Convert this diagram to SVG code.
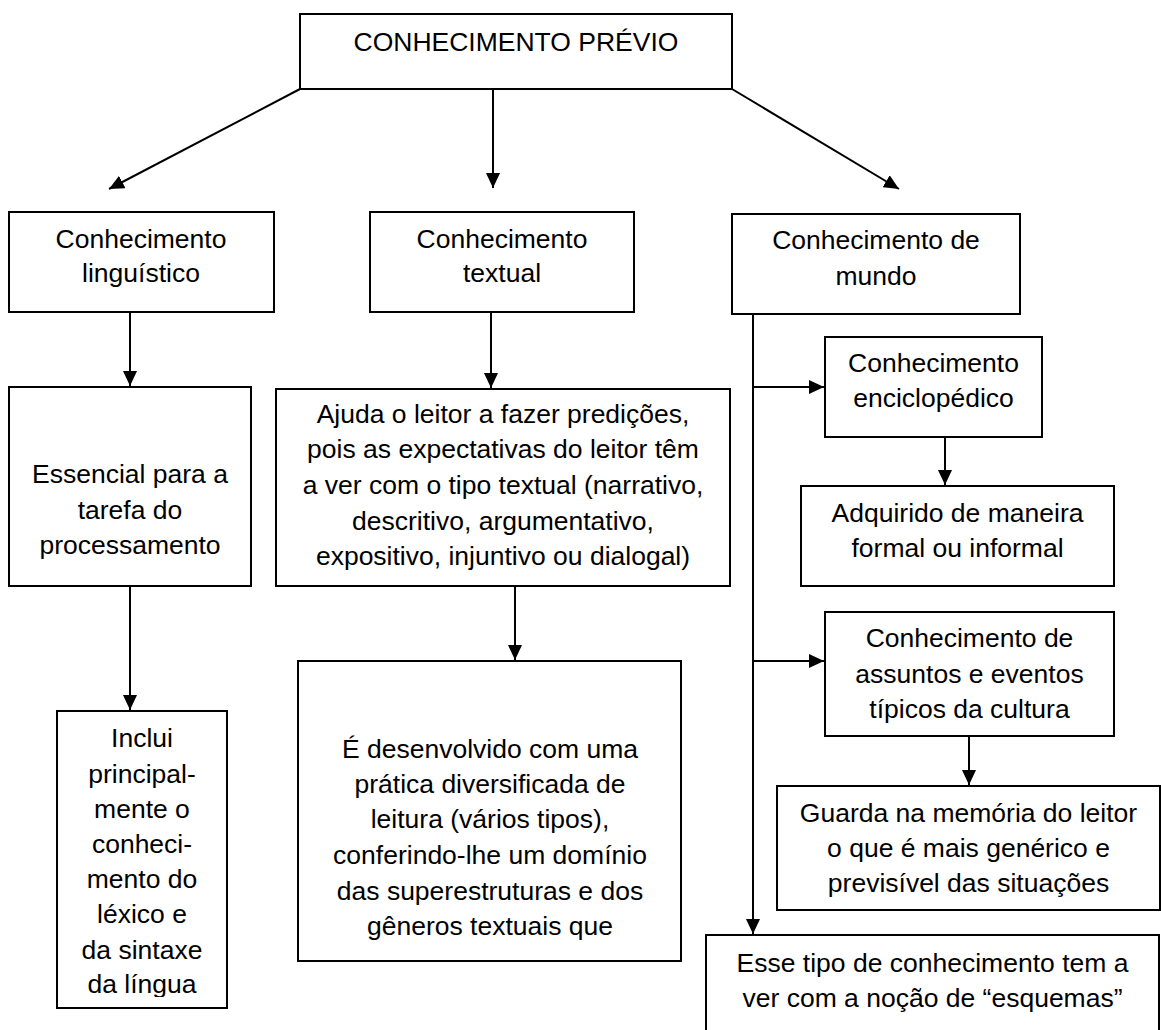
<svg xmlns="http://www.w3.org/2000/svg" width="1161" height="1030" viewBox="0 0 1161 1030">
<style>
.box{fill:#fff;stroke:#000;stroke-width:2}
.t{font-family:"Liberation Sans",Arial,sans-serif;font-size:26.5px;fill:#000;text-anchor:middle}
.c{fill:none;stroke:#000;stroke-width:2}
</style>
<defs>
<marker id="ah" markerUnits="userSpaceOnUse" markerWidth="16" markerHeight="14" refX="15" refY="7" orient="auto">
<path d="M0,0 L15,7 L0,14 z" fill="#000"/>
</marker>
<clipPath id="clipInclui"><rect x="57" y="711" width="170" height="286"/></clipPath>
</defs>
<rect width="1161" height="1030" fill="#fff"/>
<g id="connectors">
<line class="c" x1="300" y1="89" x2="109" y2="189" marker-end="url(#ah)"/>
<line class="c" x1="493" y1="89" x2="493" y2="188" marker-end="url(#ah)"/>
<line class="c" x1="732" y1="89" x2="899" y2="189" marker-end="url(#ah)"/>
<line class="c" x1="130" y1="312" x2="130" y2="386" marker-end="url(#ah)"/>
<line class="c" x1="491" y1="312" x2="491" y2="388" marker-end="url(#ah)"/>
<line class="c" x1="130" y1="586" x2="130" y2="710" marker-end="url(#ah)"/>
<line class="c" x1="515" y1="586" x2="515" y2="660" marker-end="url(#ah)"/>
<line class="c" x1="753" y1="311" x2="753" y2="934" marker-end="url(#ah)"/>
<line class="c" x1="753" y1="387" x2="824" y2="387" marker-end="url(#ah)"/>
<line class="c" x1="753" y1="661" x2="824" y2="661" marker-end="url(#ah)"/>
<line class="c" x1="945" y1="437" x2="945" y2="485" marker-end="url(#ah)"/>
<line class="c" x1="969" y1="736" x2="969" y2="785" marker-end="url(#ah)"/>
</g>
<g id="n-previo">
<rect class="box" x="300" y="14" width="432" height="75"/>
<text class="t" x="516" y="51">CONHECIMENTO PRÉVIO</text>
</g>
<g id="n-linguistico">
<rect class="box" x="9" y="212" width="265" height="100"/>
<text class="t" x="141" y="248">Conhecimento</text>
<text class="t" x="141" y="282">linguístico</text>
</g>
<g id="n-textual">
<rect class="box" x="370" y="212" width="264" height="100"/>
<text class="t" x="502" y="248">Conhecimento</text>
<text class="t" x="502" y="282">textual</text>
</g>
<g id="n-mundo">
<rect class="box" x="732" y="214" width="288" height="100"/>
<text class="t" x="876" y="249">Conhecimento de</text>
<text class="t" x="876" y="285">mundo</text>
</g>
<g id="n-essencial">
<rect class="box" x="9" y="387" width="242" height="199"/>
<text class="t" x="130" y="483">Essencial para a</text>
<text class="t" x="130" y="519">tarefa do</text>
<text class="t" x="130" y="554">processamento</text>
</g>
<g id="n-ajuda">
<rect class="box" x="276" y="389" width="454" height="197"/>
<text class="t" x="503" y="423">Ajuda o leitor a fazer predições,</text>
<text class="t" x="503" y="458">pois as expectativas do leitor têm</text>
<text class="t" x="503" y="494">a ver com o tipo textual (narrativo,</text>
<text class="t" x="503" y="530">descritivo, argumentativo,</text>
<text class="t" x="503" y="565">expositivo, injuntivo ou dialogal)</text>
</g>
<g id="n-inclui">
<rect class="box" x="57" y="711" width="170" height="297"/>
<g clip-path="url(#clipInclui)">
<text class="t" x="142" y="747">Inclui</text>
<text class="t" x="142" y="783">principal-</text>
<text class="t" x="142" y="818">mente o</text>
<text class="t" x="142" y="853">conheci-</text>
<text class="t" x="142" y="888">mento do</text>
<text class="t" x="142" y="923">léxico e</text>
<text class="t" x="142" y="959">da sintaxe</text>
<text class="t" x="142" y="993">da língua</text>
</g>
</g>
<g id="n-desenvolvido">
<rect class="box" x="298" y="661" width="383" height="300"/>
<text class="t" x="490" y="758">É desenvolvido com uma</text>
<text class="t" x="490" y="793">prática diversificada de</text>
<text class="t" x="490" y="828">leitura (vários tipos),</text>
<text class="t" x="490" y="864">conferindo-lhe um domínio</text>
<text class="t" x="490" y="900">das superestruturas e dos</text>
<text class="t" x="490" y="935">gêneros textuais que</text>
</g>
<g id="n-enciclopedico">
<rect class="box" x="825" y="337" width="217" height="100"/>
<text class="t" x="933.5" y="372">Conhecimento</text>
<text class="t" x="933.5" y="407">enciclopédico</text>
</g>
<g id="n-adquirido">
<rect class="box" x="801" y="486" width="313" height="100"/>
<text class="t" x="957.5" y="522">Adquirido de maneira</text>
<text class="t" x="957.5" y="557">formal ou informal</text>
</g>
<g id="n-assuntos">
<rect class="box" x="825" y="612" width="289" height="124"/>
<text class="t" x="969.5" y="647">Conhecimento de</text>
<text class="t" x="969.5" y="683">assuntos e eventos</text>
<text class="t" x="969.5" y="718">típicos da cultura</text>
</g>
<g id="n-guarda">
<rect class="box" x="777" y="786" width="383" height="124"/>
<text class="t" x="968.5" y="822">Guarda na memória do leitor</text>
<text class="t" x="968.5" y="857">o que é mais genérico e</text>
<text class="t" x="968.5" y="892">previsível das situações</text>
</g>
<g id="n-esse">
<rect class="box" x="706" y="935" width="453" height="120"/>
<text class="t" x="932.5" y="972">Esse tipo de conhecimento tem a</text>
<text class="t" x="932.5" y="1007">ver com a noção de “esquemas”</text>
</g>
</svg>
